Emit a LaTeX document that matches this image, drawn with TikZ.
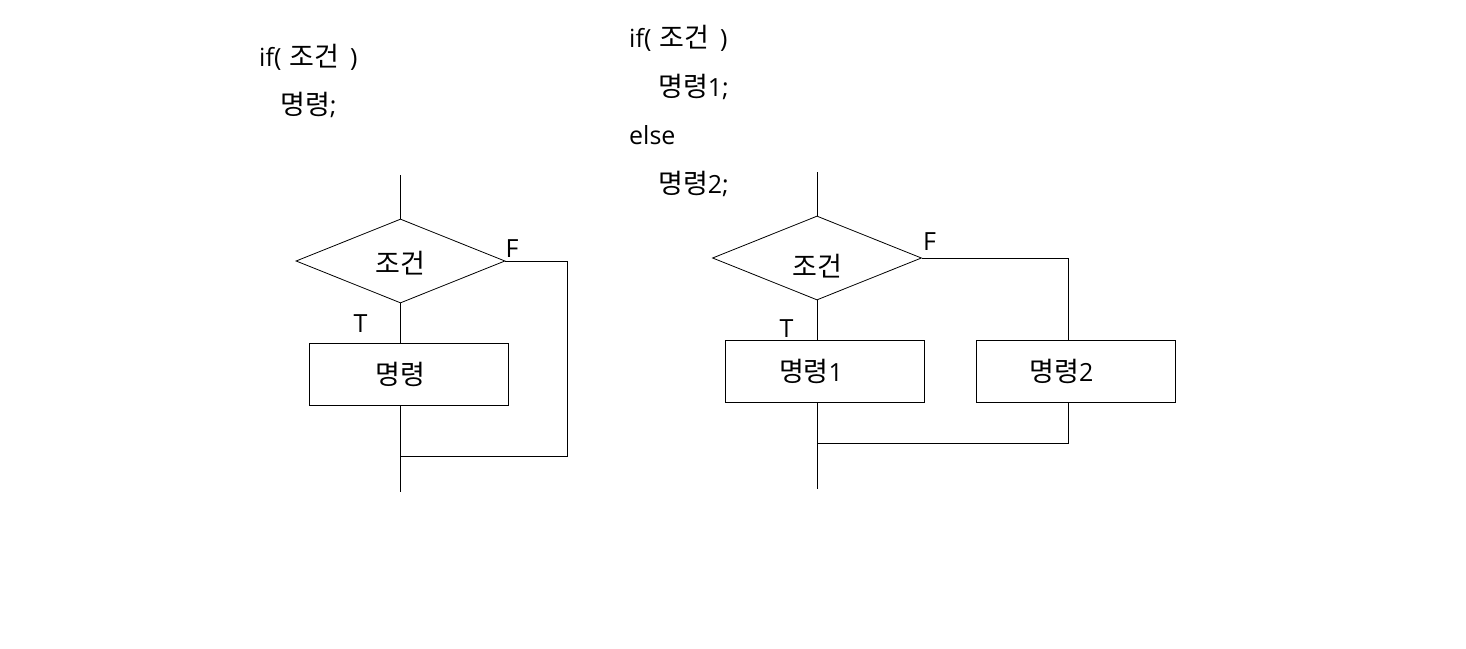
\documentclass[tikz,border=0pt]{standalone}
\usepackage{fontspec}
\setmainfont{Open Sans}
\newfontfamily\krfont[Scale=1.08]{Noto Sans CJK KR}
\newcommand{\kr}[1]{{\krfont #1}}
\newcommand{\ifcond}{if(\hspace{8pt}\kr{조건}\hspace{11pt})}
\usetikzlibrary{shapes.geometric}
\begin{document}
\begin{tikzpicture}[x=1pt,y=-1pt,
  every node/.style={font=\fontsize{25pt}{29pt}\selectfont},
  dia/.style={diamond,draw,line width=0.8pt,inner sep=0pt,minimum width=209pt,minimum height=84pt},
  cmdbox/.style={rectangle,draw,line width=0.8pt,inner sep=0pt,minimum width=199pt,minimum height=62pt},
  lbl/.style={inner sep=0pt},
  code/.style={inner sep=0pt,anchor=base west},
  wire/.style={line width=0.8pt}]
\useasboundingbox[fill=white] (0,0) rectangle (1466,648);
% code text
\node[code] (c1) at (259,66) {\ifcond};
\node[code] (c2) at (280,114) {\kr{명령};};
\node[code] (c3) at (629,47) {\ifcond};
\node[code] (c4) at (658,96) {\kr{명령}1;};
\node[code] (c5) at (629,144) {else};
\node[code] (c6) at (658,193) {\kr{명령}2;};
% left flowchart
\coordinate (ltop) at (400.5,175);
\node[dia,label={[lbl,yshift=-2pt]center:\kr{조건}}] (ld) at (400.5,261) {};
\node[cmdbox] (lb) at (408.5,374) {\kr{명령}\hspace*{16pt}};
\coordinate (lr) at (567,261);
\coordinate (lj) at (400.5,456);
\coordinate (lbot) at (400.5,492);
\node[lbl] (lf) at (512,248.5) {F};
\node[lbl] (lt) at (360.5,323.5) {T};
\draw[wire] (ltop) -- (ld.north);
\draw[wire] (ld.south) -- (lb.north -| ld.south);
\draw[wire] (lb.south -| ld.south) -- (lbot);
\draw[wire] (ld.east) -- (lr) |- (lj);
% right flowchart
\coordinate (rtop) at (817,172);
\node[dia,label={[lbl,yshift=-8pt]center:\kr{조건}}] (rd) at (817,258) {};
\node[cmdbox] (rb1) at (825,371) {\kr{명령}1\hspace*{28pt}};
\node[cmdbox] (rb2) at (1075.5,371) {\kr{명령}2\hspace*{28pt}};
\coordinate (rr) at (1068,258);
\coordinate (rj) at (817,443);
\coordinate (rbot) at (817,489);
\node[lbl] (rf) at (929.5,242) {F};
\node[lbl] (rt) at (786.5,329) {T};
\draw[wire] (rtop) -- (rd.north);
\draw[wire] (rd.south) -- (rb1.north -| rd.south);
\draw[wire] (rb1.south -| rd.south) -- (rbot);
\draw[wire] (rd.east) -- (rr) -- (rb2.north -| rr);
\draw[wire] (rb2.south -| rr) |- (rj);
\end{tikzpicture}
\end{document}
